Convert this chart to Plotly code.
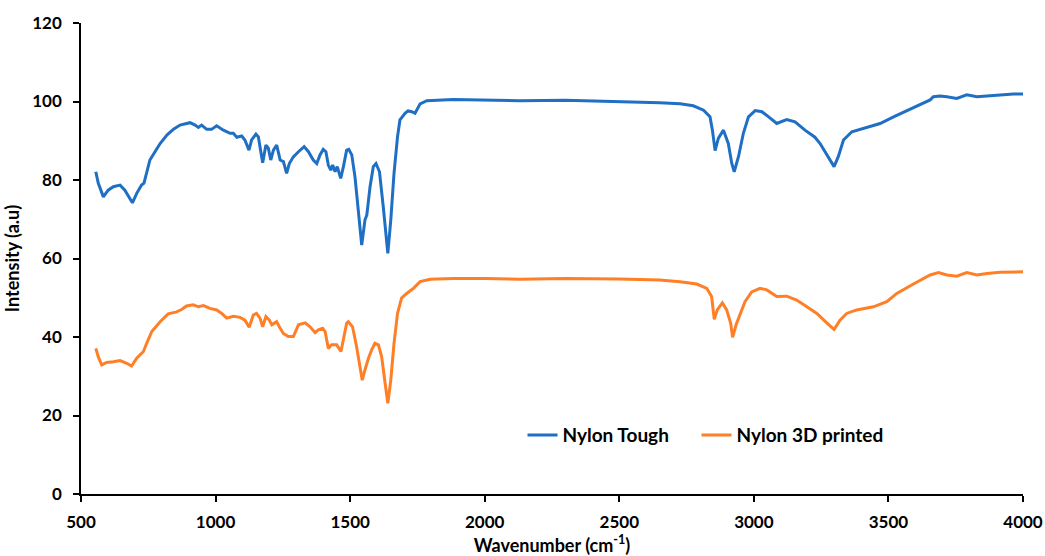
import plotly.graph_objects as go

# FTIR spectra: wavenumber (cm-1) and intensity (a.u.)
tough_wn = [555, 564, 583, 601, 620, 645, 663, 691, 707, 725, 734, 744, 756, 775, 794, 820, 845,
            868, 905, 924, 936, 948, 967, 985, 1004, 1029, 1054, 1066, 1079, 1097, 1109, 1124,
            1134, 1150, 1159, 1165, 1175, 1187, 1196, 1205, 1215, 1227, 1240, 1252, 1264, 1274,
            1289, 1308, 1329, 1345, 1363, 1376, 1388, 1400, 1410, 1419, 1428, 1435, 1444, 1452,
            1465, 1475, 1487, 1495, 1506, 1518, 1530, 1543, 1555, 1562, 1574, 1586, 1596, 1609,
            1623, 1640, 1651, 1663, 1676, 1685, 1704, 1715, 1729, 1741, 1760, 1785, 1883, 2000,
            2131, 2300, 2500, 2650, 2726, 2775, 2813, 2837, 2846, 2856, 2868, 2887, 2905, 2918,
            2927, 2943, 2961, 2980, 3005, 3030, 3055, 3085, 3122, 3153, 3190, 3227, 3246, 3271,
            3298, 3314, 3333, 3364, 3407, 3469, 3519, 3568, 3618, 3655, 3667, 3692, 3717, 3754,
            3791, 3829, 3866, 3915, 3965, 4000]
tough_val = [82.1, 79.2, 75.7, 77.4, 78.3, 78.7, 77.4, 74.2, 76.6, 78.7, 79.2, 82.1, 85.1, 87.2,
             89.3, 91.5, 93.0, 94.0, 94.6, 94.0, 93.4, 94.0, 92.9, 92.9, 93.8, 92.7, 91.9, 91.9,
             90.9, 91.2, 90.2, 87.6, 90.2, 91.7, 91.0, 88.5, 84.4, 88.9, 88.1, 85.1, 87.6, 88.9,
             85.1, 84.7, 81.7, 84.2, 85.9, 87.2, 88.5, 87.2, 85.1, 84.2, 86.4, 87.8, 87.2, 83.8,
             82.5, 83.8, 82.1, 83.4, 80.4, 83.4, 87.6, 87.8, 86.4, 80.8, 71.5, 63.4, 69.8, 71.1,
             78.3, 83.4, 84.2, 82.1, 73.2, 61.3, 69.8, 81.7, 91.0, 95.3, 97.0, 97.6, 97.4, 97.0,
             99.4, 100.2, 100.5, 100.4, 100.2, 100.3, 100.0, 99.7, 99.4, 98.9, 97.8, 96.1, 92.7,
             87.5, 90.6, 92.7, 89.3, 84.2, 82.1, 86.0, 91.9, 96.1, 97.7, 97.4, 96.1, 94.4, 95.4,
             94.8, 92.7, 90.9, 89.3, 86.4, 83.4, 86.0, 90.2, 92.3, 93.2, 94.4, 96.1, 97.7, 99.4,
             100.4, 101.2, 101.4, 101.2, 100.8, 101.7, 101.2, 101.4, 101.7, 101.9, 101.9]

printed_wn = [555, 564, 577, 595, 620, 645, 670, 688, 707, 732, 744, 763, 794, 824, 855, 874, 892,
              917, 936, 955, 979, 1004, 1023, 1041, 1066, 1091, 1109, 1125, 1140, 1152, 1165,
              1175, 1187, 1200, 1209, 1227, 1240, 1252, 1270, 1289, 1308, 1333, 1351, 1370, 1382,
              1398, 1407, 1419, 1431, 1450, 1466, 1475, 1487, 1493, 1509, 1524, 1537, 1545, 1555,
              1568, 1580, 1592, 1605, 1617, 1630, 1640, 1651, 1663, 1676, 1691, 1710, 1735, 1760,
              1797, 1883, 2000, 2131, 2300, 2500, 2650, 2726, 2788, 2825, 2843, 2853, 2864, 2883,
              2899, 2914, 2921, 2934, 2949, 2967, 2992, 3023, 3048, 3085, 3122, 3159, 3197, 3234,
              3271, 3298, 3320, 3345, 3382, 3444, 3494, 3531, 3593, 3655, 3686, 3717, 3754, 3791,
              3829, 3866, 3915, 3965, 4000]
printed_val = [37.1, 35.0, 32.9, 33.5, 33.7, 34.0, 33.3, 32.6, 34.6, 36.3, 38.4, 41.4, 43.9, 45.9,
               46.4, 47.0, 47.9, 48.2, 47.7, 48.0, 47.3, 46.9, 46.0, 44.8, 45.3, 45.0, 44.3, 42.5,
               45.6, 46.0, 44.8, 42.6, 45.2, 44.3, 43.1, 43.9, 42.2, 40.9, 40.1, 40.1, 43.1, 43.6,
               42.6, 41.1, 41.8, 42.2, 41.4, 37.1, 38.0, 38.0, 36.3, 39.2, 43.5, 43.9, 42.6, 37.5,
               32.4, 29.0, 31.6, 34.6, 36.7, 38.4, 38.0, 35.0, 28.2, 23.1, 29.0, 38.4, 46.0, 49.9,
               51.1, 52.4, 54.1, 54.7, 54.9, 54.9, 54.7, 54.9, 54.8, 54.5, 54.1, 53.5, 52.4, 50.3,
               44.5, 46.9, 48.7, 46.9, 43.5, 39.9, 43.1, 46.0, 49.0, 51.5, 52.4, 52.0, 50.3, 50.4,
               49.4, 47.7, 46.0, 43.6, 41.9, 44.3, 46.0, 46.9, 47.7, 49.0, 51.1, 53.5, 55.8, 56.4,
               55.8, 55.5, 56.4, 55.8, 56.2, 56.5, 56.6, 56.6]

x_ticks = [500, 1000, 1500, 2000, 2500, 3000, 3500, 4000]
y_ticks = [0, 20, 40, 60, 80, 100, 120]

FONT = "Lato"
legend_font = dict(family=FONT, size=19, color="black", weight="bold")

fig = go.Figure()
fig.add_trace(go.Scatter(x=tough_wn, y=tough_val, mode="lines", name="Nylon Tough",
                         line=dict(color="#1F6FC5", width=3), legend="legend"))
fig.add_trace(go.Scatter(x=printed_wn, y=printed_val, mode="lines", name="Nylon 3D printed",
                         line=dict(color="#FF7F27", width=3), legend="legend2"))

axis_common = dict(showgrid=False, zeroline=False, showline=True, linecolor="black", linewidth=1.5,
                   ticks="outside", ticklen=6, tickcolor="black", tickwidth=1.5, automargin=False,
                   tickfont=dict(family=FONT, size=17, color="black", weight="bold"))

fig.update_layout(
    width=1045, height=556,
    margin=dict(l=81, r=22, t=23, b=62),
    plot_bgcolor="white", paper_bgcolor="white",
    xaxis=dict(range=[500, 4000], tickvals=x_ticks, ticklabelstandoff=6,
               title=dict(text="Wavenumber (cm<sup>-1</sup>)", standoff=6,
                          font=dict(family=FONT, size=18, color="black", weight="bold")),
               **axis_common),
    yaxis=dict(range=[0, 120], tickvals=y_ticks, ticklabelstandoff=8,
               title=dict(text="Intensity (a.u)", standoff=8,
                          font=dict(family=FONT, size=18, color="black", weight="bold")),
               **axis_common),
    legend=dict(orientation="h", x=0.4687, xanchor="left", y=0.125, yanchor="middle",
                font=legend_font, bgcolor="rgba(0,0,0,0)"),
    legend2=dict(orientation="h", x=0.6534, xanchor="left", y=0.125, yanchor="middle",
                 font=legend_font, bgcolor="rgba(0,0,0,0)"),
    showlegend=True,
)

fig.write_html("out.html")
